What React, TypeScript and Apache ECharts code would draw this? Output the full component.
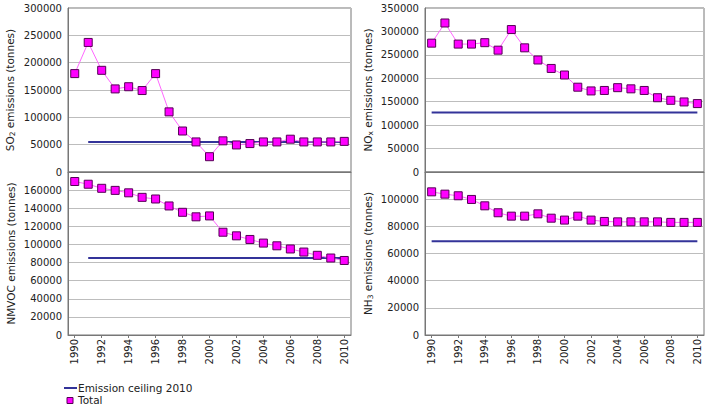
import React, { useEffect, useRef } from "react";
import * as echarts from "echarts";

const years = ["1990","1991","1992","1993","1994","1995","1996","1997","1998","1999","2000","2001","2002","2003","2004","2005","2006","2007","2008","2009","2010"];

const so2Total = [180000,237000,186000,152000,156000,149000,180000,110000,75000,55000,28000,57000,49500,52000,55000,55000,60000,55000,55000,55000,56000];
const noxTotal = [275000,318000,273000,273000,276000,260000,304000,265000,239000,221000,207000,181000,173000,174000,180000,177500,174000,158500,153000,149500,146000];
const nmvocTotal = [169500,166500,162000,159700,157000,152000,150200,142500,135500,130500,131500,113500,109500,105500,101500,98500,95000,91600,88000,85000,82300];
const nh3Total = [105400,103700,102500,99800,95100,90000,87500,87500,89200,86000,84600,87500,84600,83600,83300,83300,83300,83300,82900,82900,82900];

const so2Ceiling = 55000;
const noxCeiling = 127000;
const nmvocCeiling = 85000;
const nh3Ceiling = 69000;

const yTicksMax = [300000, 350000, 180000, 120000];
const yTicksInterval = [50000, 50000, 20000, 20000];

const FONT = "DejaVu Sans";

function ceilingSeries(value: number, startIdx: number) {
  return years.map((_, i) => (i >= startIdx ? value : null));
}

export default function App() {
  const ref = useRef<HTMLDivElement>(null);
  useEffect(() => {
    if (!ref.current) return;
    const chart = echarts.init(ref.current, undefined, { renderer: "svg" });
    const grids = [
      { left: 68, top: 8, width: 283, height: 164 },
      { left: 425, top: 8, width: 279, height: 164 },
      { left: 68, top: 172, width: 283, height: 163 },
      { left: 425, top: 172, width: 279, height: 163 },
    ];
    const names = [
      ["SO", "2"],
      ["NO", "x"],
      ["NMVOC", ""],
      ["NH", "3"],
    ];
    const totals = [so2Total, noxTotal, nmvocTotal, nh3Total];
    const ceilings = [
      ceilingSeries(so2Ceiling, 1),
      ceilingSeries(noxCeiling, 0),
      ceilingSeries(nmvocCeiling, 1),
      ceilingSeries(nh3Ceiling, 0),
    ];
    const option: any = {
      animation: false,
      backgroundColor: "#ffffff",
      textStyle: { fontFamily: FONT },
      grid: grids.map((g) => ({
        ...g,
        show: true,
        borderColor: "#777777",
        borderWidth: 1,
        backgroundColor: "#ffffff",
        containLabel: false,
      })),
      xAxis: grids.map((_, i) => ({
        type: "category",
        gridIndex: i,
        data: years,
        boundaryGap: true,
        axisLine: { show: true, lineStyle: { color: "#777777" } },
        axisTick: { show: i >= 2, alignWithLabel: true, interval: 1, length: 3, lineStyle: { color: "#777777" } },
        axisLabel: {
          show: i >= 2,
          rotate: 90,
          interval: 1,
          fontSize: 10,
          fontFamily: FONT,
          color: "#222222",
          margin: 4,
        },
        splitLine: { show: false },
      })),
      yAxis: grids.map((_, i) => ({
        type: "value",
        gridIndex: i,
        min: 0,
        max: yTicksMax[i],
        interval: yTicksInterval[i],
        name:
          names[i][1] !== ""
            ? `{a|${names[i][0]}}{s|${names[i][1]}}{a| emissions (tonnes)}`
            : `{a|${names[i][0]} emissions (tonnes)}`,
        nameLocation: "middle",
        nameGap: i % 2 === 0 ? 52 : 51,
        nameTextStyle: {
          rich: {
            a: { fontSize: 10.5, fontFamily: FONT, color: "#222222" },
            s: { fontSize: 7.5, fontFamily: FONT, color: "#222222", padding: [5, 0, 0, 0] },
          },
        },
        axisLine: { show: true, lineStyle: { color: "#777777" } },
        axisTick: { show: false },
        axisLabel: {
          fontSize: 10,
          fontFamily: FONT,
          color: "#222222",
          margin: 6,
          showMaxLabel: i < 2,
          formatter: (v: number) => String(v),
        },
        splitLine: { show: true, lineStyle: { color: "#bdbdbd", width: 1 } },
      })),
      series: [
        ...grids.map((_, i) => ({
          name: "Emission ceiling 2010",
          type: "line",
          xAxisIndex: i,
          yAxisIndex: i,
          data: ceilings[i],
          showSymbol: false,
          symbol: "none",
          lineStyle: { color: "#333399", width: 2 },
          itemStyle: { color: "#333399" },
          z: 2,
        })),
        ...grids.map((_, i) => ({
          name: "Total",
          type: "line",
          xAxisIndex: i,
          yAxisIndex: i,
          data: totals[i],
          symbol: "rect",
          symbolSize: 8,
          showSymbol: true,
          showAllSymbol: true,
          lineStyle: { color: "#ff66ff", width: 1 },
          itemStyle: { color: "#ff00ff", borderColor: "#550055", borderWidth: 1 },
          z: 3,
        })),
      ],
      graphic: [
        { type: "line", shape: { x1: 64, y1: 388, x2: 77, y2: 388 }, style: { stroke: "#333399", lineWidth: 2 } },
        { type: "text", x: 78, y: 388, style: { text: "Emission ceiling 2010", fontSize: 10.5, fontFamily: FONT, fill: "#222222", verticalAlign: "middle" } },
        { type: "rect", shape: { x: 67, y: 397.5, width: 6, height: 6 }, style: { fill: "#ff00ff", stroke: "#550055", lineWidth: 1 } },
        { type: "text", x: 78, y: 399.5, style: { text: "Total", fontSize: 10.5, fontFamily: FONT, fill: "#222222", verticalAlign: "middle" } },
      ],
    };
    chart.setOption(option);
    return () => chart.dispose();
  }, []);
  return (
    <div
      ref={ref}
      style={{ position: "absolute", left: 0, top: 0, width: 710, height: 406 }}
    />
  );
}
